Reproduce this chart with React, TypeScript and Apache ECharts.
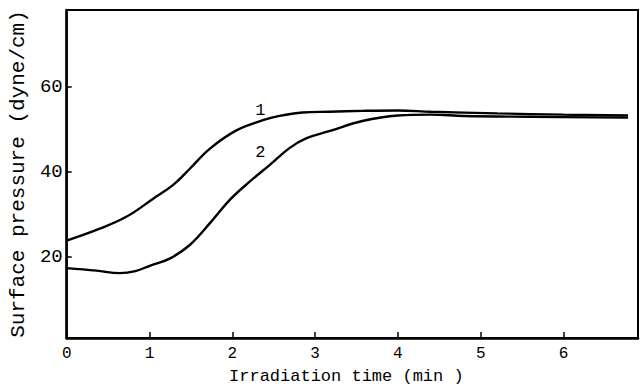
import React, { useEffect, useRef } from "react";
import * as echarts from "echarts";

// Surface pressure vs irradiation time, two monolayer samples
const curve1Time = [0, 0.36, 0.72, 1.04, 1.29, 1.49, 1.73, 2.05, 2.37, 2.57, 2.85, 3.17, 3.57, 4.0, 4.4, 5.2, 6.0, 6.78];
const curve1Pressure = [23.8, 26.3, 29.4, 33.6, 37.0, 40.8, 45.5, 49.8, 52.2, 53.2, 54.0, 54.2, 54.4, 54.5, 54.2, 53.8, 53.5, 53.3];

const curve2Time = [0, 0.36, 0.64, 0.83, 1.01, 1.25, 1.49, 1.73, 1.97, 2.21, 2.45, 2.69, 2.89, 3.17, 3.57, 4.0, 4.4, 4.8, 5.6, 6.78];
const curve2Pressure = [17.3, 16.7, 16.1, 16.6, 17.9, 19.6, 22.8, 27.9, 33.4, 37.7, 41.6, 45.6, 47.9, 49.6, 52.0, 53.3, 53.5, 53.2, 53.0, 52.8];

const xTicks = [0, 1, 2, 3, 4, 5, 6];
const yTicks = [20, 40, 60];

// Curve tags placed next to each line
const curveTags = [
  { name: "1", coord: [2.34, 54.6] },
  { name: "2", coord: [2.34, 44.5] },
];

const FONT = "'Liberation Mono', 'DejaVu Sans Mono', monospace";

function pairs(xs: number[], ys: number[]) {
  return xs.map((x, i) => [x, ys[i]]);
}

export default function App() {
  const ref = useRef<HTMLDivElement>(null);

  useEffect(() => {
    if (!ref.current) return;
    const chart = echarts.init(ref.current, undefined, { renderer: "svg" });
    const lineStyle = { color: "#000", width: 2.4 };
    const tagLabel = { show: true, formatter: "{b}", fontFamily: FONT, fontSize: 17, color: "#000" };
    chart.setOption({
      animation: false,
      backgroundColor: "#fff",
      grid: {
        left: 63,
        right: 5,
        top: 10,
        bottom: 53,
        show: true,
        borderColor: "#000",
        borderWidth: 2,
      },
      xAxis: {
        type: "value",
        min: 0,
        max: 6.9,
        name: "Irradiation time (min )",
        nameLocation: "middle",
        nameGap: 30,
        nameTextStyle: { fontFamily: FONT, fontSize: 17, color: "#000", padding: [0, 12, 0, 0] },
        axisLine: { show: true, lineStyle: { color: "#000", width: 2.5 } },
        axisTick: { show: true, inside: true, length: 6, customValues: xTicks, lineStyle: { color: "#000", width: 1.5 } },
        axisLabel: { customValues: xTicks, fontFamily: FONT, fontSize: 16, color: "#000", margin: 8 },
        splitLine: { show: false },
      },
      yAxis: {
        type: "value",
        min: 0.8,
        max: 78.2,
        name: "Surface pressure (dyne/cm)",
        nameLocation: "middle",
        nameGap: 37,
        nameRotate: 90,
        nameTextStyle: { fontFamily: FONT, fontSize: 21, color: "#000" },
        axisLine: { show: true, lineStyle: { color: "#000", width: 2.5 } },
        axisTick: { show: true, inside: true, length: 5, customValues: yTicks, lineStyle: { color: "#000", width: 1.5 } },
        axisLabel: { customValues: yTicks, fontFamily: FONT, fontSize: 19, color: "#000", margin: 4 },
        splitLine: { show: false },
      },
      series: [
        {
          name: "1",
          type: "line",
          smooth: 0.4,
          showSymbol: false,
          lineStyle,
          data: pairs(curve1Time, curve1Pressure),
          markPoint: {
            symbolSize: 0,
            label: tagLabel,
            data: [{ name: curveTags[0].name, coord: curveTags[0].coord }],
          },
        },
        {
          name: "2",
          type: "line",
          smooth: 0.4,
          showSymbol: false,
          lineStyle,
          data: pairs(curve2Time, curve2Pressure),
          markPoint: {
            symbolSize: 0,
            label: tagLabel,
            data: [{ name: curveTags[1].name, coord: curveTags[1].coord }],
          },
        },
      ],
    });
    return () => chart.dispose();
  }, []);

  return (
    <div
      ref={ref}
      style={{ position: "fixed", left: 0, top: 0, width: 643, height: 391, background: "#fff" }}
    />
  );
}
